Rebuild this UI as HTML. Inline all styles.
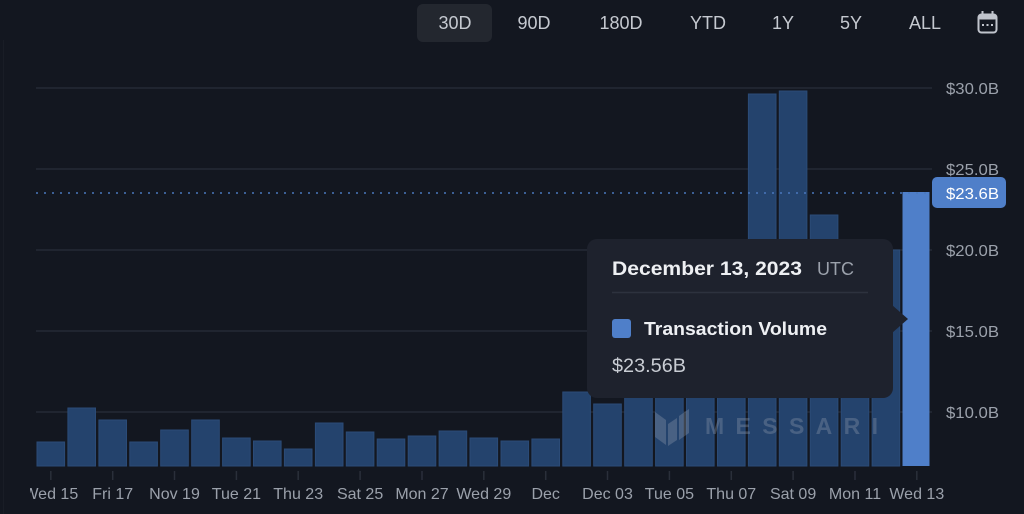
<!DOCTYPE html>
<html>
<head>
<meta charset="utf-8">
<style>
  html,body{margin:0;padding:0;background:#131720;}
  body{width:1024px;height:514px;overflow:hidden;font-family:"Liberation Sans",sans-serif;}
  svg{display:block;}
</style>
</head>
<body>
<svg width="1024" height="514" viewBox="0 0 1024 514" xmlns="http://www.w3.org/2000/svg" font-family="Liberation Sans, sans-serif">
  <defs>
    <clipPath id="xclip"><rect x="30" y="470" width="994" height="44"/></clipPath>
  </defs>
  <rect x="0" y="0" width="1024" height="514" fill="#131720"/>
  <line x1="3.5" y1="40" x2="3.5" y2="514" stroke="#191d26" stroke-width="1"/>

  <!-- toolbar -->
  <rect x="417" y="4" width="75" height="38" rx="6" fill="#23272f"/>
  <g fill="#c5c9d0" font-size="18" text-anchor="middle">
    <text x="455" y="29">30D</text>
    <text x="534" y="29">90D</text>
    <text x="621" y="29">180D</text>
    <text x="708" y="29">YTD</text>
    <text x="783" y="29">1Y</text>
    <text x="851" y="29">5Y</text>
    <text x="925" y="29">ALL</text>
  </g>
  <!-- calendar icon -->
  <g>
    <rect x="978.5" y="14.5" width="18" height="18" rx="3" fill="none" stroke="#c0c4cc" stroke-width="2"/>
    <rect x="978.5" y="14.5" width="18" height="5" rx="2" fill="#c0c4cc"/>
    <rect x="981.5" y="11" width="2" height="5" fill="#c0c4cc"/>
    <rect x="991.5" y="11" width="2" height="5" fill="#c0c4cc"/>
    <rect x="982" y="24" width="2" height="2" fill="#c0c4cc"/>
    <rect x="986.5" y="24" width="2" height="2" fill="#c0c4cc"/>
    <rect x="991" y="24" width="2" height="2" fill="#c0c4cc"/>
  </g>

  <!-- gridlines -->
  <g stroke="#252a35" stroke-width="1.5">
    <line x1="36" y1="88" x2="932" y2="88"/>
    <line x1="36" y1="169" x2="932" y2="169"/>
    <line x1="36" y1="250" x2="932" y2="250"/>
    <line x1="36" y1="331" x2="932" y2="331"/>
    <line x1="36" y1="412" x2="932" y2="412"/>
  </g>

  <!-- y labels -->
  <g fill="#9ba1ab" font-size="16">
    <text x="946" y="94" textLength="53" lengthAdjust="spacingAndGlyphs">$30.0B</text>
    <text x="946" y="175" textLength="53" lengthAdjust="spacingAndGlyphs">$25.0B</text>
    <text x="946" y="256" textLength="53" lengthAdjust="spacingAndGlyphs">$20.0B</text>
    <text x="946" y="337" textLength="53" lengthAdjust="spacingAndGlyphs">$15.0B</text>
    <text x="946" y="418" textLength="53" lengthAdjust="spacingAndGlyphs">$10.0B</text>
  </g>

  <!-- bars -->
  <g fill="#24436d" stroke="#2b4b77" stroke-width="1">
    <rect x="37.0" y="442" width="27.6" height="24"/>
    <rect x="67.9" y="408" width="27.6" height="58"/>
    <rect x="98.9" y="420" width="27.6" height="46"/>
    <rect x="129.8" y="442" width="27.6" height="24"/>
    <rect x="160.7" y="430" width="27.6" height="36"/>
    <rect x="191.7" y="420" width="27.6" height="46"/>
    <rect x="222.6" y="438" width="27.6" height="28"/>
    <rect x="253.5" y="441" width="27.6" height="25"/>
    <rect x="284.4" y="449" width="27.6" height="17"/>
    <rect x="315.4" y="423" width="27.6" height="43"/>
    <rect x="346.3" y="432" width="27.6" height="34"/>
    <rect x="377.2" y="439" width="27.6" height="27"/>
    <rect x="408.2" y="436" width="27.6" height="30"/>
    <rect x="439.1" y="431" width="27.6" height="35"/>
    <rect x="470.0" y="438" width="27.6" height="28"/>
    <rect x="501.0" y="441" width="27.6" height="25"/>
    <rect x="531.9" y="439" width="27.6" height="27"/>
    <rect x="562.8" y="392" width="27.6" height="74"/>
    <rect x="593.7" y="404" width="27.6" height="62"/>
    <rect x="624.7" y="330" width="27.6" height="136"/>
    <rect x="655.6" y="320" width="27.6" height="146"/>
    <rect x="686.5" y="300" width="27.6" height="166"/>
    <rect x="717.5" y="300" width="27.6" height="166"/>
    <rect x="748.4" y="94" width="27.6" height="372"/>
    <rect x="779.3" y="91" width="27.6" height="375"/>
    <rect x="810.3" y="215" width="27.6" height="251"/>
    <rect x="841.2" y="280" width="27.6" height="186"/>
    <rect x="872.1" y="250" width="27.6" height="216"/>
  </g>
  <rect x="902.5" y="192" width="27" height="274" fill="#4f7fc9"/>

  <!-- watermark -->
  <g fill="#8e9aac" fill-opacity="0.35">
    <polygon points="655,412 666,420 666,445 655,437"/>
    <polygon points="668,424 677,418 677,440 668,446"/>
    <polygon points="679,416 689,409 689,433 679,440"/>
    <text x="705" y="434" font-size="23" font-weight="bold" textLength="173" lengthAdjust="spacing">MESSARI</text>
  </g>

  <!-- current value dotted line -->
  <line x1="36" y1="193" x2="938" y2="193" stroke="#4a78bd" stroke-width="1.5" stroke-dasharray="2 6"/>
  <rect x="932" y="177" width="74" height="31" rx="5" fill="#4f7fc9"/>
  <text x="946" y="199" font-size="16" fill="#ffffff" textLength="53" lengthAdjust="spacingAndGlyphs">$23.6B</text>

  <!-- x ticks -->
  <g stroke="#2a2f3a" stroke-width="1.5">
    <line x1="50.8" y1="471" x2="50.8" y2="480"/>
    <line x1="112.7" y1="471" x2="112.7" y2="480"/>
    <line x1="174.5" y1="471" x2="174.5" y2="480"/>
    <line x1="236.4" y1="471" x2="236.4" y2="480"/>
    <line x1="298.2" y1="471" x2="298.2" y2="480"/>
    <line x1="360.1" y1="471" x2="360.1" y2="480"/>
    <line x1="422.0" y1="471" x2="422.0" y2="480"/>
    <line x1="483.8" y1="471" x2="483.8" y2="480"/>
    <line x1="545.7" y1="471" x2="545.7" y2="480"/>
    <line x1="607.5" y1="471" x2="607.5" y2="480"/>
    <line x1="669.4" y1="471" x2="669.4" y2="480"/>
    <line x1="731.3" y1="471" x2="731.3" y2="480"/>
    <line x1="793.1" y1="471" x2="793.1" y2="480"/>
    <line x1="855.0" y1="471" x2="855.0" y2="480"/>
    <line x1="916.8" y1="471" x2="916.8" y2="480"/>
  </g>
  <!-- x labels -->
  <g fill="#9ba1ab" font-size="16" text-anchor="middle" clip-path="url(#xclip)">
    <text x="50.8" y="499">Wed 15</text>
    <text x="112.7" y="499">Fri 17</text>
    <text x="174.5" y="499">Nov 19</text>
    <text x="236.4" y="499">Tue 21</text>
    <text x="298.2" y="499">Thu 23</text>
    <text x="360.1" y="499">Sat 25</text>
    <text x="422.0" y="499">Mon 27</text>
    <text x="483.8" y="499">Wed 29</text>
    <text x="545.7" y="499">Dec</text>
    <text x="607.5" y="499">Dec 03</text>
    <text x="669.4" y="499">Tue 05</text>
    <text x="731.3" y="499">Thu 07</text>
    <text x="793.1" y="499">Sat 09</text>
    <text x="855.0" y="499">Mon 11</text>
    <text x="916.8" y="499">Wed 13</text>
  </g>

  <!-- tooltip -->
  <g>
    <rect x="587" y="239" width="306" height="159" rx="10" fill="#1e222d"/>
    <polygon points="892,305 908,319 892,333" fill="#1e222d"/>
    <text x="612" y="275" font-size="19.5" font-weight="bold" fill="#eef0f3" textLength="190" lengthAdjust="spacingAndGlyphs">December 13, 2023</text>
    <text x="817" y="275" font-size="18" fill="#9ba1ab" textLength="37" lengthAdjust="spacingAndGlyphs">UTC</text>
    <line x1="612" y1="292.5" x2="868" y2="292.5" stroke="#2d323e" stroke-width="1.5"/>
    <rect x="612" y="319" width="19" height="19" rx="3" fill="#4f7fc9"/>
    <text x="644" y="335" font-size="18.5" font-weight="bold" fill="#eef0f3" textLength="183" lengthAdjust="spacingAndGlyphs">Transaction Volume</text>
    <text x="612" y="372" font-size="19" fill="#c9cdd4" textLength="74" lengthAdjust="spacingAndGlyphs">$23.56B</text>
  </g>
</svg>
</body>
</html>
